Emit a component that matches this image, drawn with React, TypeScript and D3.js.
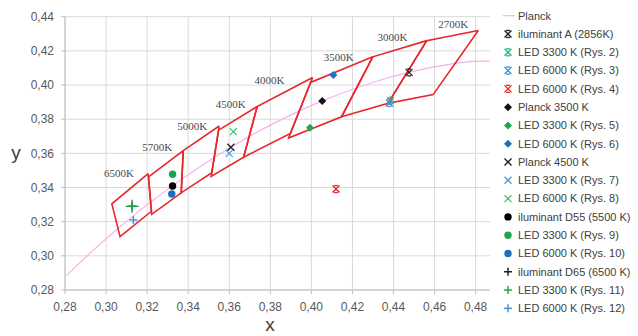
import React from "react";
import * as d3 from "d3";

// CIE 1931 chromaticity: ANSI C78.377 quadrangles, Planckian locus and measured LED points
const W = 638;
const H = 336;

const xTicks = [0.28, 0.3, 0.32, 0.34, 0.36, 0.38, 0.4, 0.42, 0.44, 0.46, 0.48];
const yTicks = [0.28, 0.3, 0.32, 0.34, 0.36, 0.38, 0.4, 0.42, 0.44];

// Planckian locus (x, y)
const planckX = [0.2807, 0.2869, 0.2952, 0.3064, 0.3135, 0.3221, 0.3325, 0.3451, 0.3608, 0.3805, 0.4053, 0.4369, 0.4476, 0.4599, 0.477, 0.4862, 0.4959];
const planckY = [0.2884, 0.2956, 0.3048, 0.3166, 0.3237, 0.3318, 0.3411, 0.3516, 0.3636, 0.3768, 0.3907, 0.4041, 0.4074, 0.4106, 0.4137, 0.414, 0.4141];

// Quadrangle corner lists: [x0,y0, x1,y1, x2,y2, x3,y3]
const quadNames = ["6500K", "5700K", "5000K", "4500K", "4000K", "3500K", "3000K", "2700K"];
const quadCorners = [
  [0.3205, 0.3481, 0.3028, 0.3304, 0.3068, 0.3113, 0.3221, 0.3261],
  [0.3376, 0.3616, 0.3207, 0.3462, 0.3222, 0.3243, 0.3366, 0.3369],
  [0.3551, 0.376, 0.3376, 0.3616, 0.3366, 0.3369, 0.3515, 0.3487],
  [0.3736, 0.3874, 0.3548, 0.3736, 0.3512, 0.3465, 0.367, 0.3578],
  [0.4006, 0.4044, 0.3736, 0.3874, 0.367, 0.3578, 0.3898, 0.3716],
  [0.4299, 0.4165, 0.3996, 0.4015, 0.3889, 0.369, 0.4147, 0.3814],
  [0.4562, 0.426, 0.4299, 0.4165, 0.4147, 0.3814, 0.4373, 0.3893],
  [0.4813, 0.4319, 0.4562, 0.426, 0.4373, 0.3893, 0.4593, 0.3944],
];
// Where each CCT caption sits (chromaticity coordinates)
const quadLabelX = [0.3063, 0.3249, 0.342, 0.3607, 0.3796, 0.4133, 0.4395, 0.4691];
const quadLabelY = [0.3483, 0.3639, 0.376, 0.3889, 0.403, 0.4166, 0.4283, 0.4357];

// Point series
const seriesNames = [
  "iluminant A (2856K)",
  "LED 3300 K (Rys. 2)",
  "LED 6000 K (Rys. 3)",
  "LED 6000 K (Rys. 4)",
  "Planck 3500 K",
  "LED 3300 K (Rys. 5)",
  "LED 6000 K (Rys. 6)",
  "Planck 4500 K",
  "LED 3300 K (Rys. 7)",
  "LED 6000 K (Rys. 8)",
  "iluminant D55 (5500 K)",
  "LED 3300 K (Rys. 9)",
  "LED 6000 K (Rys. 10)",
  "iluminant D65 (6500 K)",
  "LED 3300 K (Rys. 11)",
  "LED 6000 K (Rys. 12)",
];
const seriesShapes = [
  "star", "star", "star", "star",
  "diamond", "diamond", "diamond",
  "cross", "cross", "cross",
  "circle", "circle", "circle",
  "plus", "plus", "plus",
];
const seriesColors = [
  "#222222", "#2fb57a", "#3a8fd8", "#e8242c",
  "#111111", "#20a84e", "#1f6fc0",
  "#222222", "#4b9ad8", "#3fbf78",
  "#000000", "#1aa64c", "#1d6fbe",
  "#222222", "#2f9e55", "#4a95d6",
];
const seriesX = [0.4476, 0.4385, 0.438, 0.412, 0.4053, 0.3993, 0.4107, 0.3608, 0.36, 0.362, 0.3324, 0.3324, 0.332, 0.3127, 0.3127, 0.3133];
const seriesY = [0.4074, 0.3908, 0.3895, 0.3391, 0.3907, 0.375, 0.4059, 0.3636, 0.36, 0.3727, 0.3409, 0.3478, 0.3362, 0.329, 0.329, 0.321];

const FONT = "'Liberation Sans', Arial, sans-serif";
const SERIF = "'Liberation Serif', 'Times New Roman', serif";

const plotLeft = 65;
const plotRight = 490;
const plotTop = 16.7;
const plotBottom = 290;

const x = d3.scaleLinear().domain([0.28, 0.487]).range([plotLeft, plotRight]);
const y = d3.scaleLinear().domain([0.28, 0.44]).range([plotBottom, plotTop]);

function Marker({ shape, color, cx, cy, big }: { shape: string; color: string; cx: number; cy: number; big?: boolean }) {
  const s = big ? 5.5 : 3.5;
  switch (shape) {
    case "star": {
      const b = s * 0.55;
      return (
        <g stroke={color} strokeWidth={1.3} fill="none">
          <line x1={cx - s} y1={cy - s} x2={cx + s} y2={cy + s} />
          <line x1={cx - s} y1={cy + s} x2={cx + s} y2={cy - s} />
          <line x1={cx - b} y1={cy - s} x2={cx + b} y2={cy - s} />
          <line x1={cx - b} y1={cy + s} x2={cx + b} y2={cy + s} />
        </g>
      );
    }
    case "diamond":
      return (
        <path
          d={`M${cx},${cy - 4}L${cx + 4},${cy}L${cx},${cy + 4}L${cx - 4},${cy}Z`}
          fill={color}
        />
      );
    case "cross":
      return (
        <g stroke={color} strokeWidth={1.3} fill="none">
          <line x1={cx - s} y1={cy - s} x2={cx + s} y2={cy + s} />
          <line x1={cx - s} y1={cy + s} x2={cx + s} y2={cy - s} />
        </g>
      );
    case "circle":
      return <circle cx={cx} cy={cy} r={3.7} fill={color} />;
    case "plus":
    default: {
      const p = big ? 6.5 : 4;
      return (
        <g stroke={color} strokeWidth={1.5} fill="none">
          <line x1={cx - p} y1={cy} x2={cx + p} y2={cy} />
          <line x1={cx} y1={cy - p} x2={cx} y2={cy + p} />
        </g>
      );
    }
  }
}

export default function App() {
  const planckLine = d3
    .line<number>()
    .x((_, i) => x(planckX[i]))
    .y((_, i) => y(planckY[i]))
    .curve(d3.curveCatmullRom)(planckX);

  const quadPath = (c: number[]) =>
    d3.line<number[]>().x((p) => x(p[0])).y((p) => y(p[1]))([
      [c[0], c[1]],
      [c[2], c[3]],
      [c[4], c[5]],
      [c[6], c[7]],
      [c[0], c[1]],
    ]);

  const legendX = 508;
  const legendTop = 15.7;
  const legendStep = 18.29;
  const fmt = (v: number) => v.toFixed(2).replace(".", ",");

  return (
    <svg
      width={W}
      height={H}
      style={{ position: "absolute", left: 0, top: 0, background: "#fff" }}
      fontFamily={FONT}
    >
      <defs>
        <clipPath id="plotClip">
          <rect x={plotLeft} y={plotTop - 10} width={plotRight - plotLeft} height={plotBottom - plotTop + 10} />
        </clipPath>
      </defs>

      {/* grid */}
      {yTicks.map((t) => (
        <line key={"gy" + t} x1={plotLeft} x2={plotRight} y1={y(t)} y2={y(t)} stroke="#d9d9d9" strokeWidth={1} />
      ))}
      {xTicks.map((t) => (
        <line key={"gx" + t} x1={x(t)} x2={x(t)} y1={plotTop} y2={plotBottom} stroke="#d9d9d9" strokeWidth={1} />
      ))}

      {/* axes */}
      <line x1={plotLeft} x2={plotLeft} y1={plotTop} y2={plotBottom} stroke="#bfbfbf" />
      <line x1={plotLeft} x2={plotRight} y1={plotBottom} y2={plotBottom} stroke="#bfbfbf" />
      {yTicks.map((t) => (
        <g key={"ty" + t}>
          <line x1={plotLeft - 4} x2={plotLeft} y1={y(t)} y2={y(t)} stroke="#bfbfbf" />
          <text x={plotLeft - 11} y={y(t)} dy="0.35em" textAnchor="end" fontSize={12} fill="#595959">
            {fmt(t)}
          </text>
        </g>
      ))}
      {xTicks.map((t) => (
        <g key={"tx" + t}>
          <line x1={x(t)} x2={x(t)} y1={plotBottom} y2={plotBottom + 4} stroke="#bfbfbf" />
          <text x={x(t)} y={plotBottom + 17} dy="0.35em" textAnchor="middle" fontSize={12} fill="#595959">
            {fmt(t)}
          </text>
        </g>
      ))}
      <text x={16} y={153} dy="0.3em" textAnchor="middle" fontSize={19} fill="#404040">
        y
      </text>
      <text x={270} y={331} textAnchor="middle" fontSize={19} fill="#404040">
        x
      </text>

      <g clipPath="url(#plotClip)">
        {/* Planckian locus */}
        <path d={planckLine ?? ""} fill="none" stroke="#f4b2ec" strokeWidth={1.2} />

        {/* ANSI quadrangles */}
        {quadCorners.map((c, i) => (
          <path key={quadNames[i]} d={quadPath(c) ?? ""} fill="none" stroke="#e8262b" strokeWidth={1.6} strokeLinejoin="miter" />
        ))}
      </g>

      {quadNames.map((n, i) => (
        <text
          key={"ql" + n}
          x={x(quadLabelX[i])}
          y={y(quadLabelY[i])}
          dy="0.35em"
          textAnchor="middle"
          fontFamily={SERIF}
          fontSize={11}
          fill="#4a4a4a"
        >
          {n}
        </text>
      ))}

      {/* measured points */}
      {seriesNames.map((n, i) => (
        <Marker
          key={"pt" + n}
          shape={seriesShapes[i]}
          color={seriesColors[i]}
          cx={x(seriesX[i])}
          cy={y(seriesY[i])}
          big={n === "LED 3300 K (Rys. 11)"}
        />
      ))}

      {/* legend */}
      <line x1={legendX - 5} x2={legendX + 7} y1={legendTop} y2={legendTop} stroke="#f4b2ec" strokeWidth={1.2} />
      <text x={legendX + 10} y={legendTop} dy="0.35em" fontSize={11} fill="#404040">
        Planck
      </text>
      {seriesNames.map((n, i) => {
        const ly = legendTop + (i + 1) * legendStep;
        return (
          <g key={"lg" + n}>
            <Marker shape={seriesShapes[i]} color={seriesColors[i]} cx={legendX} cy={ly} />
            <text x={legendX + 10} y={ly} dy="0.35em" fontSize={11} fill="#404040">
              {n}
            </text>
          </g>
        );
      })}
    </svg>
  );
}
